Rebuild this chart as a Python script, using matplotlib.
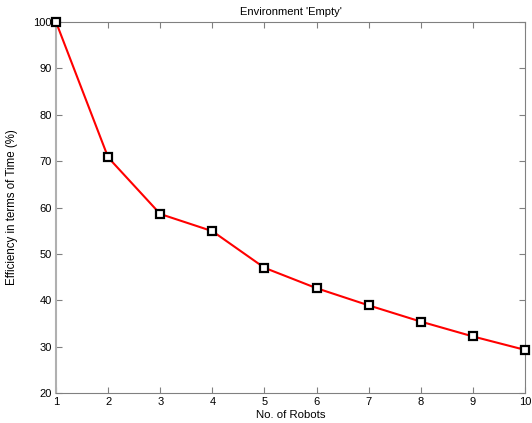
import matplotlib
matplotlib.use("Agg")
import matplotlib.pyplot as plt

plt.rcParams['font.family'] = ['Liberation Sans', 'DejaVu Sans']

robots = [1, 2, 3, 4, 5, 6, 7, 8, 9, 10]
efficiency = [100, 70.8, 58.6, 54.9, 47.0, 42.6, 38.9, 35.4, 32.2, 29.3]
x_ticks = [1, 2, 3, 4, 5, 6, 7, 8, 9, 10]
y_ticks = [20, 30, 40, 50, 60, 70, 80, 90, 100]

fig = plt.figure(figsize=(5.32, 4.23), dpi=100)
ax = fig.add_axes([0.1053, 0.0709, 0.8815, 0.8771])

ax.plot(robots, efficiency, color='red', linewidth=1.5, marker='s', markersize=6,
        markerfacecolor='white', markeredgecolor='black', markeredgewidth=1.6,
        clip_on=False, zorder=5)

ax.set_xlim(1, 10)
ax.set_ylim(20, 100)
ax.set_xticks(x_ticks)
ax.set_yticks(y_ticks)
ax.tick_params(direction='in', length=4, width=0.8, color='#808080', labelsize=8,
               top=True, right=True, pad=3)
for s in ax.spines.values():
    s.set_color('#808080')
    s.set_linewidth(0.8)
ax.spines['left'].set_color('#b0b0b0')
ax.spines['left'].set_linewidth(1.5)

ax.set_title("Environment 'Empty'", fontsize=8, pad=5)
ax.set_xlabel('No. of Robots', fontsize=8.2, labelpad=2)
ax.set_ylabel('Efficiency in terms of Time (%)', fontsize=8.3, labelpad=11)

fig.savefig('out.png', dpi=100)
